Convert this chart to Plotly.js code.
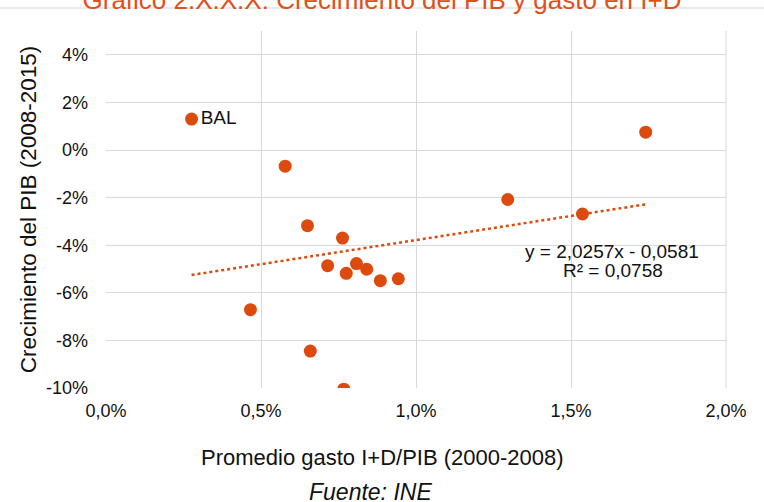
<!DOCTYPE html>
<html>
<head>
<meta charset="utf-8">
<script src="https://cdn.plot.ly/plotly-3.0.1.min.js"></script>
<style>html,body{margin:0;padding:0;background:#fff;}#chart{width:764px;height:502px;}</style>
</head>
<body>
<div id="chart"></div>
<script>
// Promedio gasto I+D/PIB (2000-2008), fraction
const gastoID = [0.00276, 0.00578, 0.00650, 0.00763, 0.00715, 0.00775, 0.00808, 0.00841, 0.00885, 0.00943, 0.00466, 0.00659, 0.00767, 0.01296, 0.01537, 0.01741];
// Crecimiento del PIB (2008-2015), fraction
const crecPIB = [0.0130, -0.0068, -0.0318, -0.0370, -0.0486, -0.0518, -0.0477, -0.0501, -0.0549, -0.0541, -0.0671, -0.0845, -0.1005, -0.0208, -0.0269, 0.0075];
const pointLabels = ["BAL", "", "", "", "", "", "", "", "", "", "", "", "", "", "", ""];
const yTickVals = [-0.10, -0.08, -0.06, -0.04, -0.02, 0, 0.02, 0.04];
const yTickLabels = ["-10%", "-8%", "-6%", "-4%", "-2%", "0%", "2%", "4%"];
const trendSlope = 2.0257;
const trendIntercept = -0.0581;
const trendR2 = 0.0758;

const orange = "#dc4a0e";
const FONT = "Liberation Sans, Arial, sans-serif";
const xmin = Math.min(...gastoID), xmax = Math.max(...gastoID);
const trendX = [xmin, xmax];
const trendY = trendX.map(v => trendSlope * v + trendIntercept);
const fmt = (v) => v.toFixed(4).replace(".", ",");

const traces = [
  {x: trendX, y: trendY, mode: "lines", type: "scatter",
   line: {color: orange, width: 2.5, dash: "dot"}, hoverinfo: "skip", showlegend: false},
  {x: gastoID, y: crecPIB, mode: "markers+text", type: "scatter",
   text: pointLabels, textposition: "middle right",
   textfont: {family: FONT, size: 19, color: "#111"},
   marker: {color: orange, size: 13}, showlegend: false}
];

// pixel helpers for paper coords (plot area 106..726 x 31..388)
const px = (x) => (x - 106) / 620;
const py = (y) => (388 - y) / 357;

const layout = {
  width: 764, height: 502,
  margin: {l: 106, r: 38, t: 31, b: 114},
  paper_bgcolor: "#fff", plot_bgcolor: "#fff",
  separators: ",.",
  font: {family: FONT, size: 18, color: "#111"},
  title: {text: "Gráfico 2.X.X.X: Crecimiento del PIB y gasto en I+D",
          font: {family: FONT, size: 26, color: "#e0501a"},
          x: 0.5, xanchor: "center", yref: "container", y: 1, yanchor: "middle"},
  xaxis: {range: [0, 0.02], dtick: 0.005, tick0: 0, tickformat: ".1%",
          showgrid: true, gridcolor: "#d9d9d9", gridwidth: 1, zeroline: false,
          showline: false, ticks: "", ticklabelstandoff: 10,
          tickfont: {size: 18}},
  yaxis: {range: [-0.1, 0.05], tickmode: "array", tickvals: yTickVals, ticktext: yTickLabels,
          showgrid: true, gridcolor: "#d9d9d9", gridwidth: 1, zeroline: false,
          showline: false, ticks: "", ticklabelstandoff: 17,
          tickfont: {size: 18},
          title: {text: "Crecimiento del PIB (2008-2015)", font: {size: 22.5}, standoff: 3}},
  shapes: [
    {type: "line", xref: "paper", yref: "paper", x0: px(0), x1: px(764),
     y0: py(8), y1: py(8), line: {color: "#e3e3e3", width: 1.5}},
    {type: "line", xref: "paper", yref: "paper", x0: 1, x1: 1, y0: 0, y1: 1,
     line: {color: "#d9d9d9", width: 1}}
  ],
  annotations: [
    {xref: "paper", yref: "paper", x: px(612), y: py(251), showarrow: false,
     xanchor: "center", yanchor: "middle",
     text: "y = " + fmt(trendSlope) + "x - " + fmt(-trendIntercept), font: {size: 19, color: "#111"}},
    {xref: "paper", yref: "paper", x: px(613), y: py(270), showarrow: false,
     xanchor: "center", yanchor: "middle",
     text: "R² = " + fmt(trendR2), font: {size: 19, color: "#111"}},
    {xref: "paper", yref: "paper", x: px(382), y: py(457), xanchor: "center", yanchor: "middle",
     showarrow: false, text: "Promedio gasto I+D/PIB (2000-2008)", font: {size: 22, color: "#111"}},
    {xref: "paper", yref: "paper", x: px(370), y: py(492), xanchor: "center", yanchor: "middle",
     showarrow: false, text: "<i>Fuente: INE</i>", font: {size: 23, color: "#111"}}
  ]
};

Plotly.newPlot("chart", traces, layout, {displayModeBar: false, staticPlot: true});
</script>
</body>
</html>
